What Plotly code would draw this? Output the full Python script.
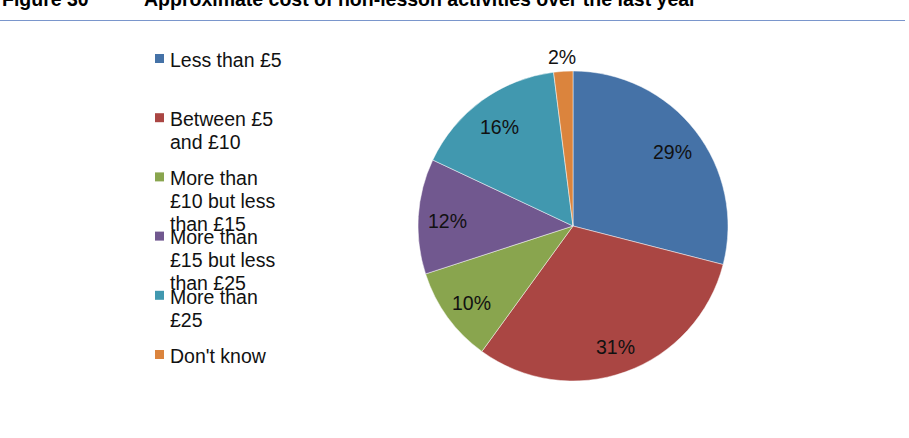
import math
import plotly.graph_objects as go

W, H = 909, 438

categories = ["Less than £5", "Between £5 and £10", "More than £10 but less than £15",
              "More than £15 but less than £25", "More than £25", "Don't know"]
legend_lines = [["Less than £5"], ["Between £5", "and £10"],
                ["More than", "£10 but less", "than £15"],
                ["More than", "£15 but less", "than £25"],
                ["More than", "£25"], ["Don't know"]]
values = [29, 31, 10, 12, 16, 2]
colors = ["#4572A7", "#AA4643", "#89A54E", "#71588F", "#4198AF", "#DB843D"]
label_outside = [False, False, False, False, False, True]
title_num = "Figure 30"
title_text = "Approximate cost of non-lesson activities over the last year"

FONT = "Arial, 'Liberation Sans', sans-serif"
FS = 19.5

def px(x):
    return x / W

def py(y):
    return 1 - y / H

cx, cy, r = 573, 226, 155

fig = go.Figure(go.Pie(
    labels=categories, values=values, sort=False, direction="clockwise", rotation=0,
    marker=dict(colors=colors, line=dict(color="rgba(255,255,255,0.6)", width=0.8)),
    textinfo="none",
    showlegend=False, hoverinfo="label+percent",
    domain=dict(x=[px(cx - r), px(cx + r)], y=[py(cy + r), py(cy - r)]),
))

annotations = []
shapes = []

# data labels placed along each slice's mid-angle (Excel-style)
total = sum(values)
cum = 0
for v, out in zip(values, label_outside):
    mid = (cum + v / 2) / total * 2 * math.pi
    cum += v
    rr = r * (1.115 if out else 0.81)
    lx = cx + rr * math.sin(mid)
    ly = cy - rr * math.cos(mid)
    annotations.append(dict(text=f"{round(v / total * 100)}%", x=px(lx), y=py(ly),
                            xref="paper", yref="paper", xanchor="center", yanchor="middle",
                            yshift=-3, showarrow=False,
                            font=dict(family=FONT, size=FS, color="#111111")))

# title (partially cut at the top)
annotations.append(dict(text=f"<b>{title_num}</b>", x=px(0), y=1, xref="paper", yref="paper",
                        xanchor="left", yanchor="middle", yshift=1, showarrow=False,
                        font=dict(family=FONT, size=FS, color="#000000")))
annotations.append(dict(text=f"<b>{title_text}</b>", x=px(142), y=1, xref="paper", yref="paper",
                        xanchor="left", yanchor="middle", yshift=1, showarrow=False,
                        font=dict(family=FONT, size=FS, color="#000000")))
shapes.append(dict(type="line", xref="paper", yref="paper", x0=0, x1=px(905), y0=py(20.5), y1=py(20.5),
                   line=dict(color="#7A96CC", width=1.2)))

# manual legend
base0, step, lstep = 66.5, 59.2, 23
for i, lines in enumerate(legend_lines):
    b = base0 + step * i
    shapes.append(dict(type="rect", xref="paper", yref="paper",
                       x0=px(155), x1=px(164), y0=py(b - 3.5), y1=py(b - 12.5),
                       fillcolor=colors[i], line=dict(width=0)))
    for j, t in enumerate(lines):
        bl = b + lstep * j
        annotations.append(dict(text=t, x=px(168), y=py(bl - 6.8), xref="paper", yref="paper",
                                xanchor="left", yanchor="middle", showarrow=False,
                                font=dict(family=FONT, size=FS, color="#111111")))

fig.update_layout(
    width=W, height=H, margin=dict(l=0, r=0, t=0, b=0),
    paper_bgcolor="white", plot_bgcolor="white",
    annotations=annotations, shapes=shapes,
)
fig.write_html("out.html")
